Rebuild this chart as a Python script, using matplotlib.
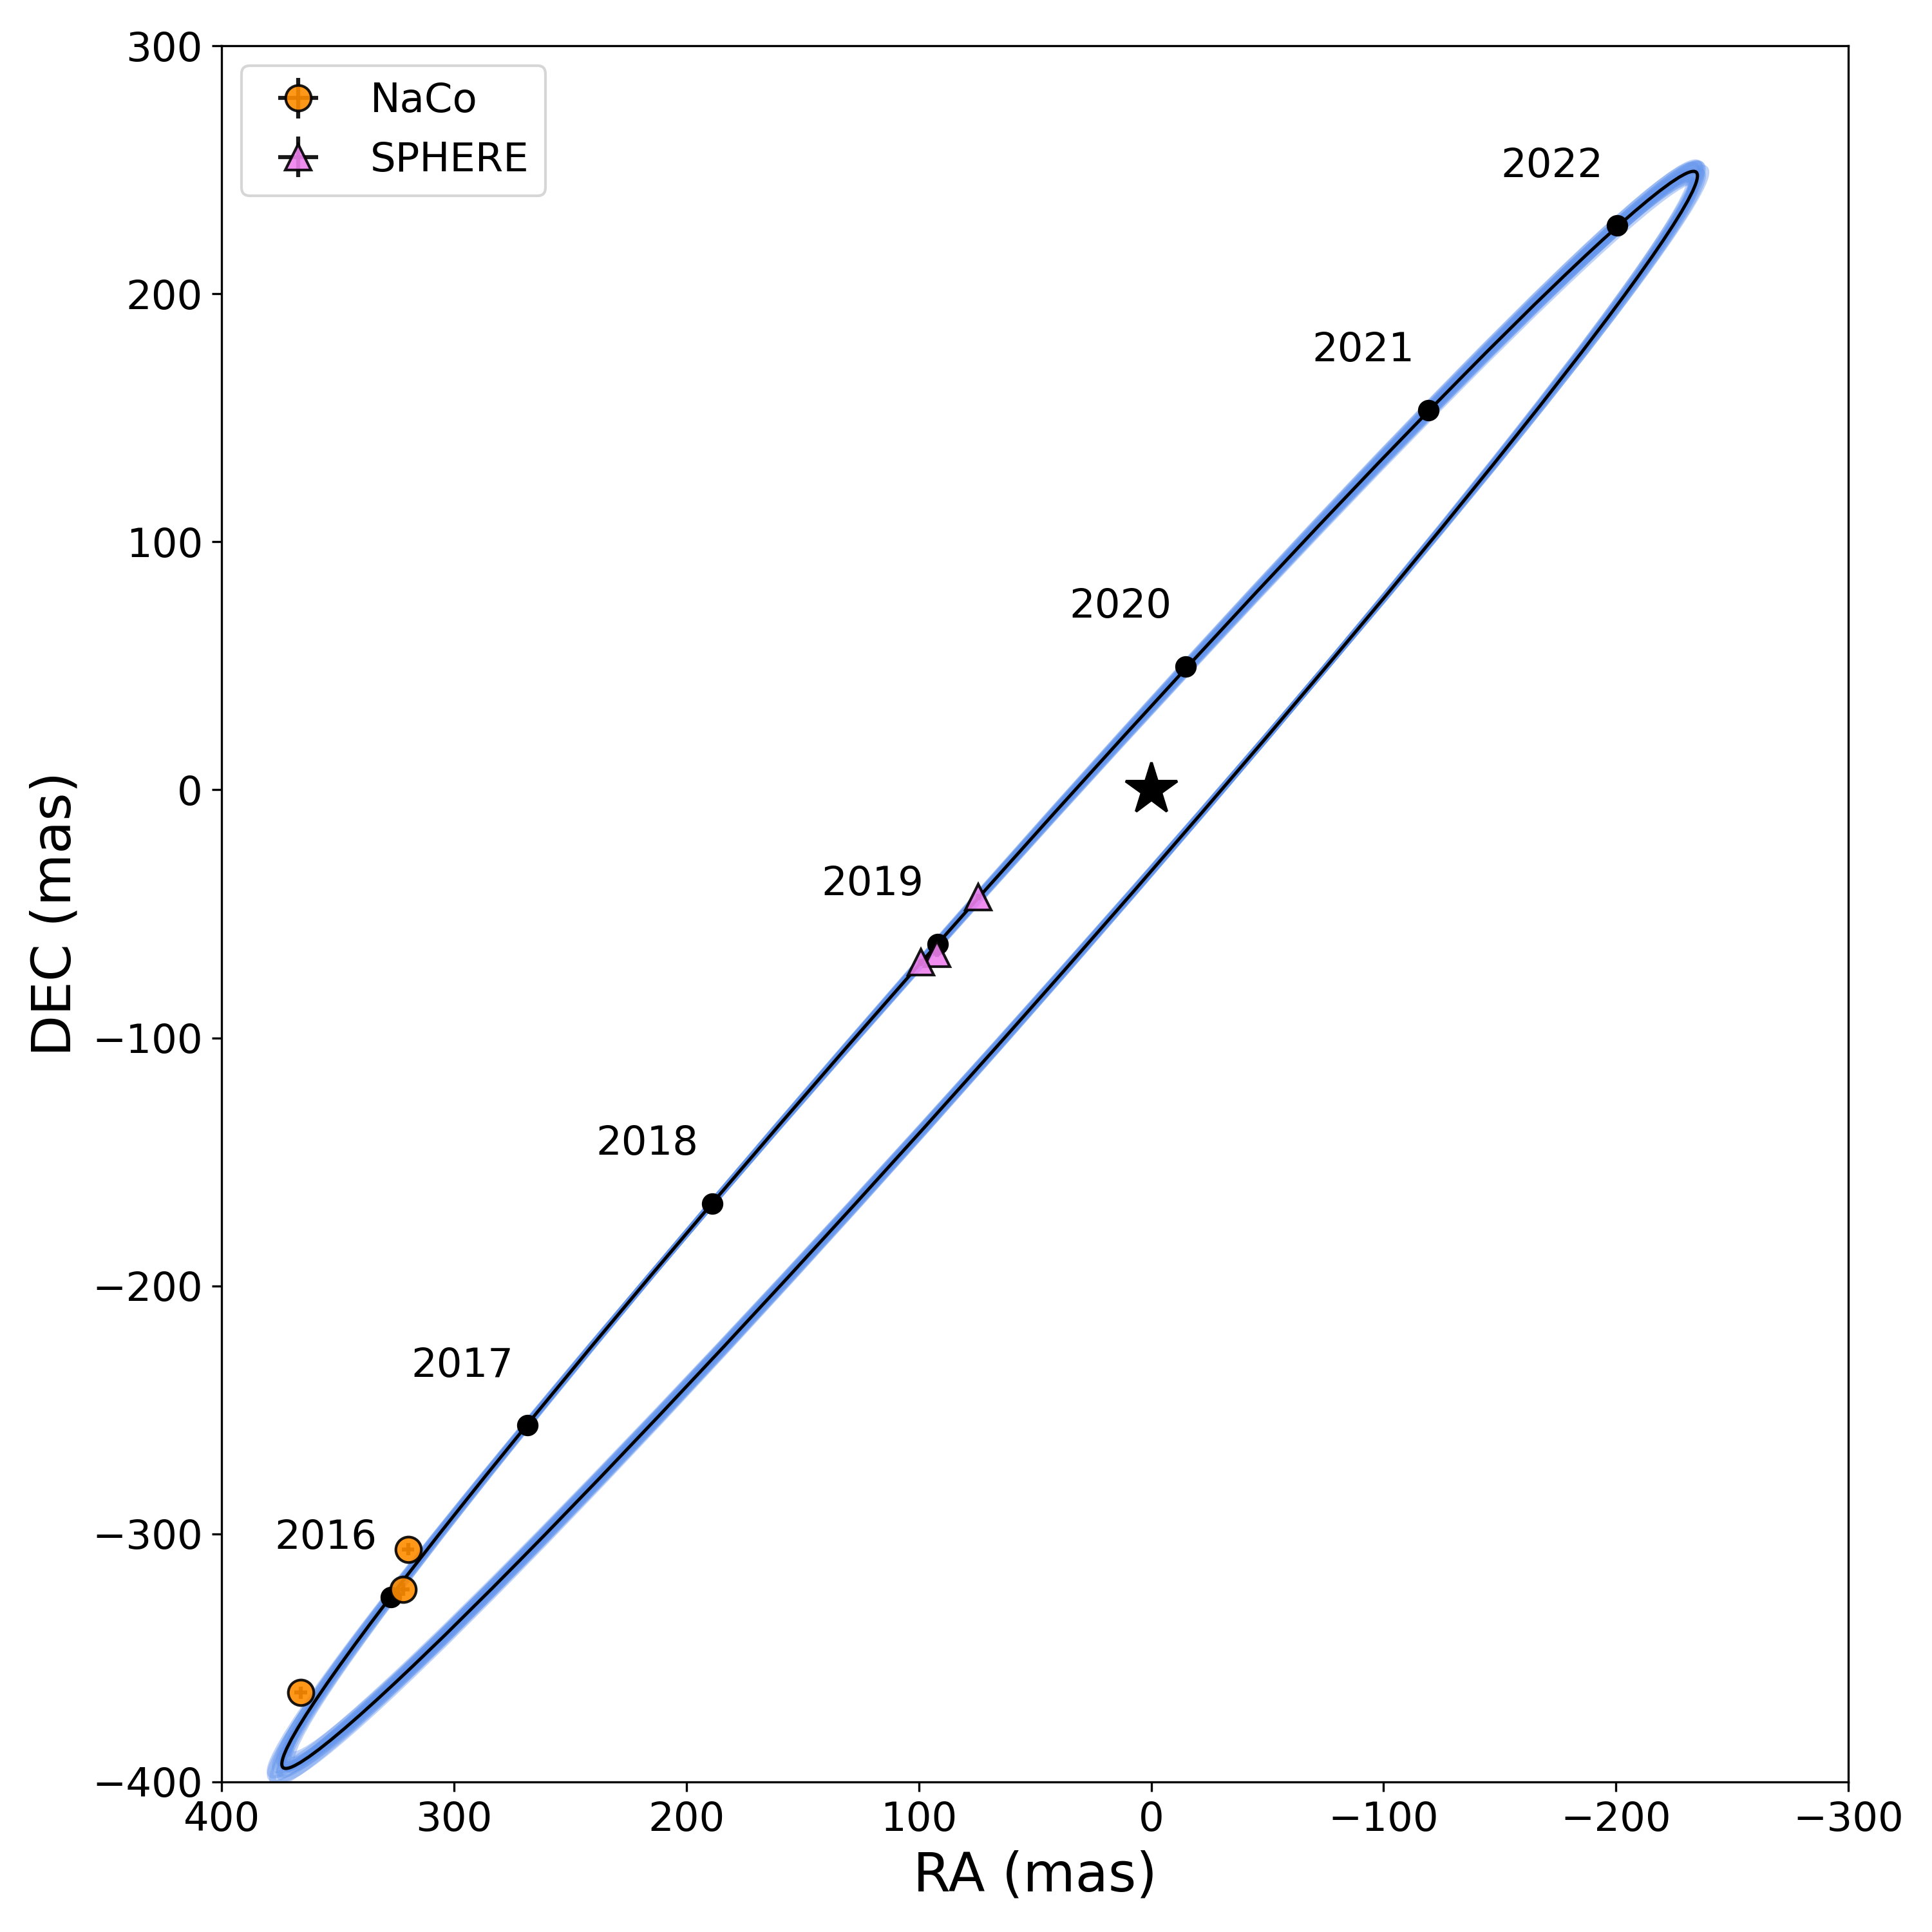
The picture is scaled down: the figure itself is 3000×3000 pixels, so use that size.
import matplotlib
matplotlib.use("Agg")
from matplotlib import pyplot as plt
from matplotlib.patches import Ellipse

# best-fit projected orbit (mas, degrees)
orbit_ra0 = 69.5
orbit_dec0 = -72.6
orbit_a = 442.6
orbit_b = 23.5
orbit_pa = 133.4

# a handful of posterior orbits drawn behind the best fit
samp_ra0 = [70.2, 68.8, 70.9, 69.5, 68.1, 69.5, 70.2, 71.2, 68.5, 69.8, 70.5, 69.2, 70.9, 68.1, 70.2, 69.5]
samp_dec0 = [-73.3, -71.9, -74.1, -72.6, -71.1, -72.6, -73.3, -74.4, -71.5, -73.0, -73.7, -72.2, -74.1, -71.1, -73.3, -72.6]
samp_a = [445.1, 439.1, 447.6, 441.6, 444.1, 442.6, 440.1, 446.6, 437.6, 444.6, 440.6, 445.6, 439.6, 443.6, 447.1, 438.6]
samp_b = [24.4, 24.2, 24.05, 23.85, 23.67, 23.5, 23.33, 23.15, 22.95, 22.8, 22.6, 23.92, 23.08, 24.3, 22.7, 23.4]
samp_pa = [133.13, 133.19, 133.25, 133.3, 133.35, 133.4, 133.45, 133.5, 133.55, 133.61, 133.67, 133.28, 133.52, 133.17, 133.63, 133.43]

# predicted position at the start of each year
years = [2016, 2017, 2018, 2019, 2020, 2021, 2022]
year_ra = [327.1, 268.4, 188.9, 92.0, -14.8, -119.3, -200.6]
year_dec = [-325.5, -256.2, -166.8, -62.1, 49.8, 153.1, 227.5]

# astrometry
naco_ra = [319.7, 321.9, 366.0]
naco_dec = [-306.2, -322.4, -364.0]
naco_ra_err = [2.6, 2.8, 2.7]
naco_dec_err = [2.5, 2.6, 2.4]

sphere_ra = [74.3, 92.2, 99.0]
sphere_dec = [-43.3, -66.2, -69.6]
sphere_ra_err = [1.3, 1.5, 1.4]
sphere_dec_err = [1.3, 1.2, 1.5]

fig = plt.figure(figsize=(10, 10), dpi=300)
ax = fig.add_axes([0.1147, 0.0777, 0.8420, 0.8986])

for i in range(len(samp_a)):
    e = Ellipse((samp_ra0[i], samp_dec0[i]), 2 * samp_a[i], 2 * samp_b[i], angle=samp_pa[i],
                fill=False, ec='cornflowerblue', lw=2.5, alpha=0.4, zorder=1)
    ax.add_patch(e)

best = Ellipse((orbit_ra0, orbit_dec0), 2 * orbit_a, 2 * orbit_b, angle=orbit_pa,
               fill=False, ec='k', lw=1.2, zorder=2)
ax.add_patch(best)

ax.plot(year_ra, year_dec, 'o', color='k', ms=7, zorder=3)
for yr, x, y in zip(years, year_ra, year_dec):
    ax.text(x + 28, y + 24, str(yr), ha='center', va='center', fontsize=15)

ax.plot(0, 0, marker='*', color='k', ms=20, zorder=3)

ax.errorbar(naco_ra, naco_dec, xerr=naco_ra_err, yerr=naco_dec_err, fmt='o',
            color='darkorange', mec='k', mew=1, ecolor='k', ms=9.5, alpha=0.9,
            label='NaCo', zorder=4)
ax.errorbar(sphere_ra, sphere_dec, xerr=sphere_ra_err, yerr=sphere_dec_err, fmt='^',
            color='violet', mec='k', mew=1, ecolor='k', ms=9.5, alpha=0.9,
            label='SPHERE', zorder=4)

ax.set_xlim(400, -300)
ax.set_ylim(-400, 300)
ax.set_xlabel('RA (mas)', fontsize=20)
ax.set_ylabel('DEC (mas)', fontsize=20)
ax.tick_params(labelsize=15)
ax.legend(loc='upper left', fontsize=15)

fig.savefig('out.png', dpi=300)
